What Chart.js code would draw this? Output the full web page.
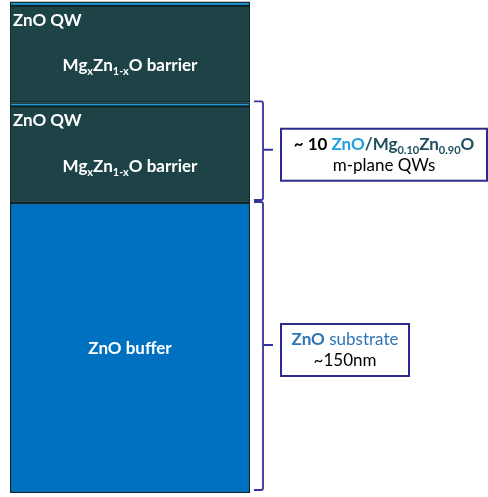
<!DOCTYPE html>
<html>
<head>
<meta charset="utf-8">
<script src="https://cdn.jsdelivr.net/npm/chart.js@4"></script>
<style>
  html, body { margin: 0; padding: 0; background: #fff; }
  #wrap { width: 488px; height: 497px; position: relative; }
</style>
</head>
<body>
<div id="wrap"><canvas id="stack"></canvas></div>
<script>
// layer stack, bottom to top (thickness in nm)
const layerNames = ["ZnO buffer", "MgZnO barrier", "ZnO QW", "MgZnO barrier", "ZnO QW"];
const layerThickness = [150, 50, 2, 50, 2];
const layerColors = ["#0070c0", "#1d4346", "#1ea0dc", "#1d4346", "#1ea0dc"];
const stackTop = 255;

// braces: [first layer, last layer] covered by each brace
const braceSpans = [[1, 2], [0, 0]];

const FONT = "Lato, 'Open Sans', sans-serif";

// rich text runs: t = text, b = bold, c = colour, s = subscript
const barrierRuns = [
    { t: "Mg", b: true, c: "#fff" }, { t: "x", b: true, c: "#fff", s: true },
    { t: "Zn", b: true, c: "#fff" }, { t: "1-x", b: true, c: "#fff", s: true },
    { t: "O barrier", b: true, c: "#fff" }
];
const boxTexts = [
    [
        [
            { t: "~ 10 ", b: true, c: "#000" },
            { t: "ZnO", b: true, c: "#1ea0dc" },
            { t: "/Mg", b: true, c: "#1f4e5c" }, { t: "0.10", b: true, c: "#1f4e5c", s: true },
            { t: "Zn", b: true, c: "#1f4e5c" }, { t: "0.90", b: true, c: "#1f4e5c", s: true },
            { t: "O", b: true, c: "#1f4e5c" }
        ],
        [{ t: "m-plane QWs", b: false, c: "#000" }]
    ],
    [
        [{ t: "ZnO", b: true, c: "#2e75b6" }, { t: " substrate", b: false, c: "#2e75b6" }],
        [{ t: "~150nm", b: false, c: "#000" }]
    ]
];
const boxWidths = [206, 128];

function runFont(r, size) {
    return (r.b ? "bold " : "") + (r.s ? Math.round(size * 0.62) : size) + "px " + FONT;
}

function drawRuns(ctx, runs, cx, y, size) {
    let w = 0;
    runs.forEach(r => { ctx.font = runFont(r, size); w += ctx.measureText(r.t).width; });
    let x = cx - w / 2;
    runs.forEach(r => {
        ctx.font = runFont(r, size);
        ctx.fillStyle = r.c;
        ctx.fillText(r.t, x, r.s ? y + 4 : y);
        x += ctx.measureText(r.t).width;
    });
}

function layerEdge(i, top) {
    let sum = 0;
    for (let k = 0; k < i; k++) sum += layerThickness[k];
    if (top) sum += layerThickness[i];
    return sum;
}

const labelPlugin = {
    id: "labels",
    afterDraw(chart) {
        const ctx = chart.ctx;
        const area = chart.chartArea;
        const y = chart.scales.y;
        const cx = (area.left + area.right) / 2;
        ctx.save();
        ctx.textBaseline = "alphabetic";
        ctx.textAlign = "left";

        layerNames.forEach((name, i) => {
            const yTop = y.getPixelForValue(layerEdge(i, true));
            const yBot = y.getPixelForValue(layerEdge(i, false));
            if (name === "ZnO buffer") {
                ctx.font = "bold 17px " + FONT;
                ctx.fillStyle = "#fff";
                ctx.textAlign = "center";
                ctx.fillText(name, cx, (yTop + yBot) / 2 + 6);
                ctx.textAlign = "left";
            } else if (name === "ZnO QW") {
                // label sits in the barrier just below the well
                ctx.font = "bold 17px " + FONT;
                ctx.fillStyle = "#fff";
                ctx.fillText(name, area.left + 3, yBot + 20);
            } else {
                drawRuns(ctx, barrierRuns, cx, (yTop + yBot) / 2 + 17, 17);
            }
        });

        // braces and boxes
        const bx = area.right + 13;
        braceSpans.forEach((span, j) => {
            const y1 = y.getPixelForValue(layerEdge(span[1], true)) - 1;
            const y2 = y.getPixelForValue(layerEdge(span[0], false)) - 3;
            const ym = (y1 + y2) / 2 - 1;
            ctx.strokeStyle = "#34349c";
            ctx.lineWidth = 1.8;
            ctx.beginPath();
            ctx.moveTo(bx - 9, y1);
            ctx.lineTo(bx - 2, y1);
            ctx.quadraticCurveTo(bx, y1, bx, y1 + 2);
            ctx.lineTo(bx, y2 - 2);
            ctx.quadraticCurveTo(bx, y2, bx - 2, y2);
            ctx.lineTo(bx - 9, y2);
            ctx.moveTo(bx, ym);
            ctx.lineTo(bx + 10, ym);
            ctx.stroke();

            const left = bx + 18;
            const top = ym - 21;
            ctx.lineWidth = 2;
            ctx.strokeStyle = "#2c2c8c";
            ctx.strokeRect(left, top, boxWidths[j], 52);
            const lines = boxTexts[j];
            drawRuns(ctx, lines[0], left + boxWidths[j] / 2, top + 21, 17);
            drawRuns(ctx, lines[1], left + boxWidths[j] / 2, top + 42, 17);
        });
        ctx.restore();
    }
};

new Chart(document.getElementById("stack").getContext("2d"), {
    type: "bar",
    data: {
        labels: ["stack"],
        datasets: layerNames.map((name, i) => ({
            label: name,
            data: [layerThickness[i]],
            backgroundColor: layerColors[i],
            borderColor: "#10262a",
            borderWidth: 1.5,
            borderSkipped: false,
            barPercentage: 1,
            categoryPercentage: 1
        }))
    },
    options: {
        responsive: true,
        maintainAspectRatio: false,
        animation: false,
        layout: { padding: { left: 10, right: 238, top: 0, bottom: 4 } },
        plugins: { legend: { display: false }, tooltip: { enabled: false } },
        scales: {
            x: { stacked: true, display: false },
            y: { stacked: true, display: false, min: 0, max: stackTop }
        }
    },
    plugins: [labelPlugin]
});
</script>
</body>
</html>
